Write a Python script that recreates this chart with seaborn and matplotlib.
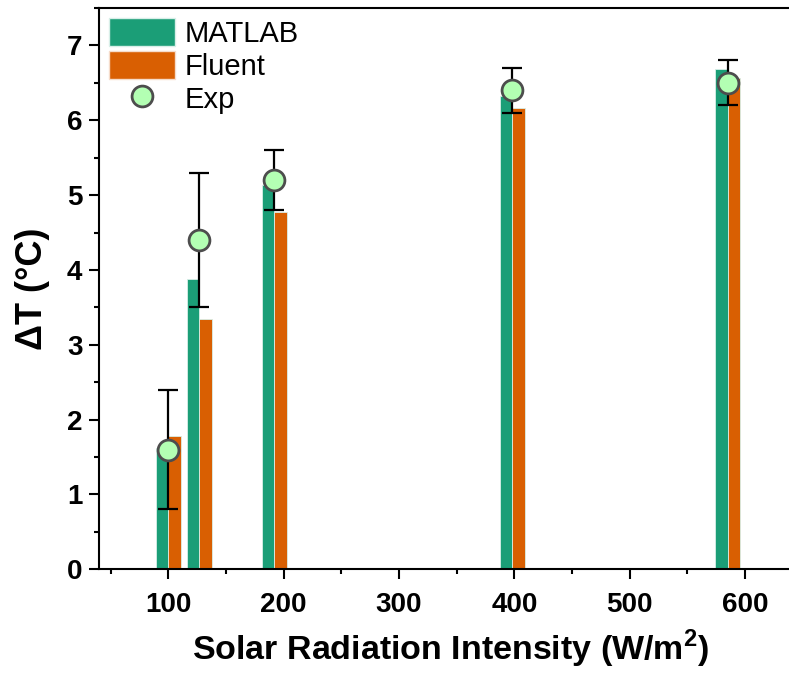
import numpy as np
import pandas as pd
import seaborn as sns
import matplotlib
matplotlib.use("Agg")
import matplotlib.pyplot as plt
from matplotlib.patches import Patch
from matplotlib.lines import Line2D
from matplotlib.ticker import MultipleLocator

# ---- data ----
radiation = [100, 127, 192, 398, 585]
matlab = [1.62, 3.88, 5.14, 6.32, 6.68]
fluent = [1.78, 3.35, 4.77, 6.16, 6.57]
exp_vals = [1.6, 4.4, 5.2, 6.4, 6.5]
exp_err = [0.8, 0.9, 0.4, 0.3, 0.3]
series_names = ["MATLAB", "Fluent", "Exp"]
x_ticks = [100, 200, 300, 400, 500, 600]
y_ticks = [0, 1, 2, 3, 4, 5, 6, 7]

green = "#1b9e77"
orange = "#d95f02"
exp_face = "#b3ffb3"
exp_edge = "#4d4d4d"

sns.set_theme(style="ticks")
plt.rcParams["font.family"] = ["Liberation Sans", "DejaVu Sans"]
plt.rcParams["text.color"] = "black"
plt.rcParams["axes.labelcolor"] = "black"
plt.rcParams["xtick.color"] = "black"
plt.rcParams["ytick.color"] = "black"
plt.rcParams["mathtext.fontset"] = "custom"
plt.rcParams["mathtext.bf"] = "Liberation Sans:bold"

df = pd.DataFrame({
    "Radiation": radiation * 2,
    "dT": matlab + fluent,
    "Model": [series_names[0]] * len(radiation) + [series_names[1]] * len(radiation),
})

fig = plt.figure(figsize=(7.89, 6.73), dpi=100)
ax = fig.add_axes([0.1255, 0.1541, 0.892, 0.834])

sns.barplot(data=df, x="Radiation", y="dT", hue="Model", native_scale=True,
            palette=[green, orange], saturation=1, ax=ax, legend=False,
            edgecolor="#d8efe8", linewidth=0.6, errorbar=None)

ax.errorbar(radiation, exp_vals, yerr=exp_err, fmt="none", ecolor="black",
            elinewidth=1.6, capsize=7.5, capthick=1.6, zorder=4)
sns.scatterplot(x=radiation, y=exp_vals, s=15 ** 2, color=exp_face,
                edgecolor=exp_edge, linewidth=2, zorder=5, ax=ax, legend=False)

ax.set_xlim(40, 650)
ax.set_ylim(0, 7.5)
ax.set_xticks(x_ticks)
ax.set_yticks(y_ticks)
ax.xaxis.set_minor_locator(MultipleLocator(50))
ax.yaxis.set_minor_locator(MultipleLocator(0.5))
ax.tick_params(axis="both", which="major", direction="out", length=7, width=1.5,
               labelsize=20, colors="black")
ax.tick_params(axis="x", which="major", pad=9.5)
ax.tick_params(axis="y", which="major", pad=5)
ax.tick_params(axis="both", which="minor", direction="out", length=3.5, width=1.5)
for lab in ax.get_xticklabels() + ax.get_yticklabels():
    lab.set_fontweight("bold")

for side in ["left", "bottom", "top"]:
    ax.spines[side].set_visible(True)
    ax.spines[side].set_linewidth(1.5)
    ax.spines[side].set_color("black")
ax.spines["right"].set_visible(False)

ax.set_xlabel("Solar Radiation Intensity (W/m$^\\mathbf{2}$)", fontsize=24.5,
              fontweight="bold", labelpad=7)
ax.set_ylabel("ΔT (°C)", fontsize=26, fontweight="bold", labelpad=12)

handles = [
    Patch(facecolor=green, edgecolor="#d8efe8", label=series_names[0]),
    Patch(facecolor=orange, edgecolor="#f5dccb", label=series_names[1]),
    Line2D([], [], linestyle="none", marker="o", markersize=15,
           markerfacecolor=exp_face, markeredgecolor=exp_edge,
           markeredgewidth=2, label=series_names[2]),
]
ax.legend(handles=handles, loc="upper left", bbox_to_anchor=(0.0, 1.0),
          frameon=False, fontsize=21, handlelength=2.27, handleheight=1.1,
          labelspacing=0.1, handletextpad=0.3, borderaxespad=0.15,
          borderpad=0.2)

fig.savefig("out.png", dpi=100)
